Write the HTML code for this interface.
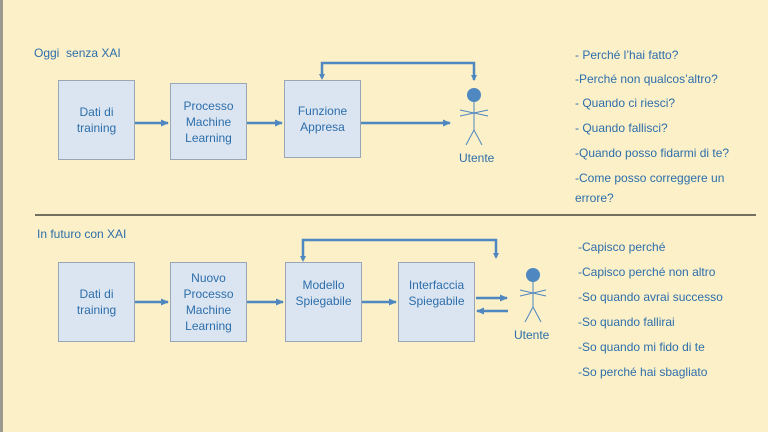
<!DOCTYPE html>
<html><head><meta charset="utf-8"><style>
body{margin:0;width:768px;height:432px;background:#fcf0c8;overflow:hidden;position:relative;font-family:"Liberation Sans",sans-serif;}
.t{position:absolute;color:#2d6eab;font-size:12px;white-space:nowrap;}
.b{position:absolute;background:#dbe5f1;border:1px solid #98a6b6;box-sizing:border-box;display:flex;align-items:center;justify-content:center;text-align:center;color:#2d6eab;font-size:12px;line-height:16px;}
</style></head><body>
<div style="position:absolute;left:0;top:0;width:3px;height:432px;background:#9a9a90"></div>
<svg width="768" height="432" style="position:absolute;left:0;top:0">
<defs><marker id="a" markerWidth="8" markerHeight="8" refX="7" refY="4" orient="auto" markerUnits="userSpaceOnUse"><path d="M0,0.5 L8,4 L0,7.5z" fill="#4f87c0"/></marker></defs>
<g stroke="#4f87c0" stroke-width="2.5" fill="none">
<line x1="135" y1="123" x2="168" y2="123" marker-end="url(#a)"/>
<line x1="247" y1="123" x2="282" y2="123" marker-end="url(#a)"/>
<line x1="361" y1="123" x2="450" y2="123" marker-end="url(#a)"/>
<polyline points="322,78 322,63 474,63 474,80" />
<line x1="135" y1="302" x2="168" y2="302" marker-end="url(#a)"/>
<line x1="247" y1="302" x2="283" y2="302" marker-end="url(#a)"/>
<line x1="362" y1="302" x2="396" y2="302" marker-end="url(#a)"/>
<polyline points="303,260 303,240 496,240 496,257"/>
<line x1="476" y1="298" x2="507" y2="298" marker-end="url(#a)"/>
<line x1="508" y1="311" x2="477" y2="311" marker-end="url(#a)"/>
</g>
<path d="M322,80 l-3,-6 h6z M474,81 l-3,-6 h6z M303,262 l-3,-6 h6z M496,259 l-3,-6 h6z" fill="#4f87c0"/>
<g stroke="#4f87c0" stroke-width="1" fill="none">
<line x1="474" y1="102" x2="474" y2="130"/><line x1="460" y1="110" x2="488" y2="116"/><line x1="460" y1="116" x2="488" y2="110"/>
<line x1="474" y1="130" x2="466" y2="145"/><line x1="474" y1="130" x2="482" y2="145"/>
<line x1="533" y1="281" x2="533" y2="307"/><line x1="520" y1="296" x2="546" y2="290"/><line x1="520" y1="290" x2="546" y2="296"/>
<line x1="533" y1="307" x2="525" y2="322"/><line x1="533" y1="307" x2="541" y2="322"/>
</g>
<circle cx="474" cy="95" r="7" fill="#4f87c0"/>
<circle cx="533" cy="275" r="7" fill="#4f87c0"/>
<line x1="35" y1="215" x2="756" y2="215" stroke="#222" stroke-width="1.3"/>
</svg>
<div class="t" style="left:34px;top:46px">Oggi&nbsp; senza XAI</div>
<div class="t" style="left:37px;top:227px">In futuro con XAI</div>
<div class="b" style="left:58px;top:80px;width:77px;height:80px">Dati di<br>training</div>
<div class="b" style="left:170px;top:83px;width:77px;height:77px">Processo<br>Machine<br>Learning</div>
<div class="b" style="left:284px;top:80px;width:77px;height:78px">Funzione<br>Appresa</div>
<div class="t" style="left:459px;top:151px">Utente</div>
<div class="b" style="left:58px;top:262px;width:77px;height:80px">Dati di<br>training</div>
<div class="b" style="left:170px;top:262px;width:77px;height:80px">Nuovo<br>Processo<br>Machine<br>Learning</div>
<div class="b" style="left:285px;top:262px;width:77px;height:80px;align-items:flex-start;padding-top:14px">Modello<br>Spiegabile</div>
<div class="b" style="left:398px;top:262px;width:77px;height:80px;align-items:flex-start;padding-top:14px">Interfaccia<br>Spiegabile</div>
<div class="t" style="left:514px;top:328px">Utente</div>
<div class="t" style="left:575px;top:48px">- Perché l’hai fatto?</div>
<div class="t" style="left:575px;top:72px">-Perché non qualcos’altro?</div>
<div class="t" style="left:575px;top:96px">- Quando ci riesci?</div>
<div class="t" style="left:575px;top:121px">- Quando fallisci?</div>
<div class="t" style="left:575px;top:146px">-Quando posso fidarmi di te?</div>
<div class="t" style="left:575px;top:171px">-Come posso correggere un</div>
<div class="t" style="left:575px;top:191px">errore?</div>
<div class="t" style="left:578px;top:240px">-Capisco perché</div>
<div class="t" style="left:578px;top:265px">-Capisco perché non altro</div>
<div class="t" style="left:578px;top:290px">-So quando avrai successo</div>
<div class="t" style="left:578px;top:315px">-So quando fallirai</div>
<div class="t" style="left:578px;top:340px">-So quando mi fido di te</div>
<div class="t" style="left:578px;top:365px">-So perché hai sbagliato</div>
</body></html>
